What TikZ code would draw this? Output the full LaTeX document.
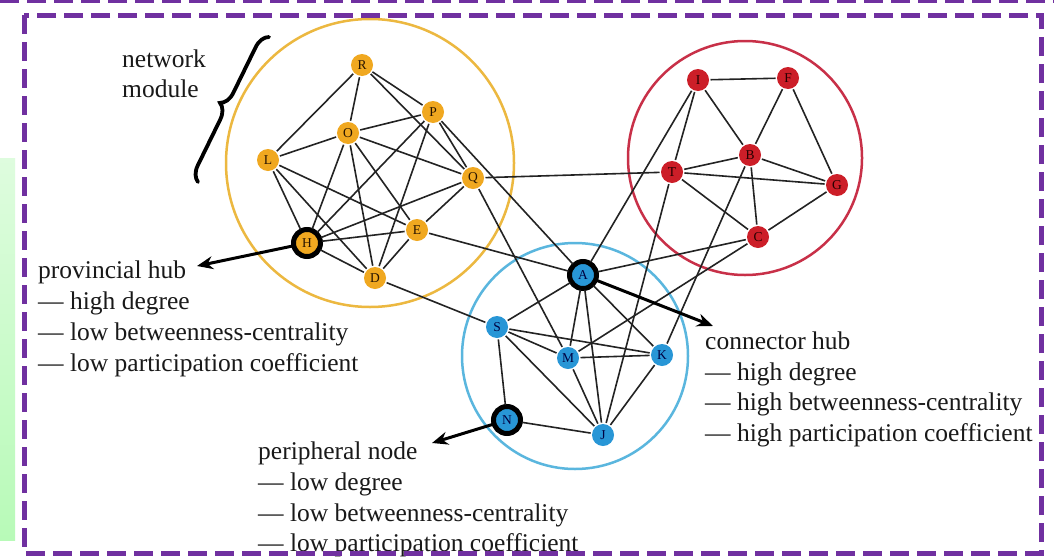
\documentclass[tikz,border=0pt]{standalone}
\usepackage{fontspec}
\setmainfont{Liberation Serif}
\usetikzlibrary{arrows.meta,decorations.pathreplacing}
\definecolor{purp}{RGB}{112,48,160}
\definecolor{orgfill}{RGB}{240,168,32}
\definecolor{orgring}{RGB}{236,184,64}
\definecolor{redfill}{RGB}{204,30,40}
\definecolor{redring}{RGB}{200,48,72}
\definecolor{bluefill}{RGB}{40,150,214}
\definecolor{bluering}{RGB}{90,182,222}
\definecolor{edgecol}{RGB}{35,35,35}
\definecolor{txt}{RGB}{25,25,25}
\definecolor{greentop}{RGB}{222,252,222}
\definecolor{greenbot}{RGB}{184,250,184}
\begin{document}
\begin{tikzpicture}[x=1pt,y=-1pt,
  vtx/.style={circle,inner sep=0pt,minimum size=22pt,outer sep=1.5pt,
    font=\fontsize{13.5}{13.5}\selectfont},
  onode/.style={vtx,fill=orgfill,text=black!85!orange},
  rnode/.style={vtx,fill=redfill,text=black!85!red},
  bnode/.style={vtx,fill=bluefill,text=black!75!blue},
  hub/.style={draw=black,line width=5pt,minimum size=27pt},
  edge/.style={draw=edgecol,line width=1.6pt},
  pointer/.style={draw=black,line width=3pt,-{Stealth[length=16pt,width=13pt]}},
  module/.style={line width=2.5pt},
  lbl/.style={font=\fontsize{25.5}{31}\selectfont,text=txt,inner sep=0pt,anchor=base west},
  frame/.style={draw=purp,line width=5pt,dash pattern=on 19pt off 8pt},
]
\useasboundingbox (0,0) rectangle (1054,557);
\fill[white] (0,0) rectangle (1054,557);
\shade[top color=greentop,bottom color=greenbot] (0,158) rectangle (15,540);

% modules
\draw[module,orgring] (370,163) circle (144);
\draw[module,redring] (745,158) circle (117);
\draw[module,bluering] (575,356) circle (113);

% nodes
\node[onode] (R) at (362,65) {R};
\node[onode] (P) at (433,112) {P};
\node[onode] (O) at (348,133) {O};
\node[onode] (L) at (268,160) {L};
\node[onode] (Q) at (473,178) {Q};
\node[onode] (E) at (417,230) {E};
\node[onode,hub] (H) at (307,243) {H};
\node[onode] (D) at (375,278) {D};
\node[rnode] (I) at (698,80) {I};
\node[rnode] (F) at (788,78) {F};
\node[rnode] (B) at (750,155) {B};
\node[rnode] (T) at (672,172) {T};
\node[rnode] (G) at (837,185) {G};
\node[rnode] (C) at (758,237) {C};
\node[bnode,hub] (A) at (583,275) {A};
\node[bnode] (S) at (497,327) {S};
\node[bnode] (M) at (568,358) {M};
\node[bnode] (K) at (662,355) {K};
\node[bnode,hub] (N) at (507,420) {N};
\node[bnode] (J) at (603,435) {J};

% edges
\foreach \u/\v in {R/L,R/O,R/P,R/Q,O/P,O/L,O/Q,O/H,O/D,O/E,P/H,P/D,P/Q,P/A,
  Q/H,Q/E,Q/M,Q/T,L/H,L/D,L/E,H/E,H/D,D/E,D/S,E/A,
  I/F,I/B,I/T,I/A,T/B,T/G,T/C,T/J,B/F,B/G,B/C,B/K,F/G,G/C,C/A,C/M,
  A/S,A/M,A/J,A/K,S/M,S/K,S/J,S/N,M/K,M/J,K/J,N/J}
  \draw[edge] (\u) -- (\v);

% pointers
\coordinate (hubtip) at (197,266);
\coordinate (contip) at (713,326);
\coordinate (pertip) at (432,443);
\draw[pointer] (H) -- (hubtip);
\draw[pointer] (A) -- (contip);
\draw[pointer] (N) -- (pertip);

% brace and labels
\coordinate (braceb) at (198,182);
\coordinate (bracet) at (269,37);
\draw[decorate,decoration={brace,amplitude=15pt},line width=3.8pt,line cap=round] (braceb) -- (bracet);
\node[lbl] (nm1) at (122,67) {network};
\node[lbl] (nm2) at (122,97) {module};

\node[lbl] (ph1) at (38,278) {provincial hub};
\node[lbl] (ph2) at (38,309) {\textemdash{} high degree};
\node[lbl] (ph3) at (38,340) {\textemdash{} low betweenness-centrality};
\node[lbl] (ph4) at (38,371) {\textemdash{} low participation coefficient};

\node[lbl] (ch1) at (705,349) {connector hub};
\node[lbl] (ch2) at (705,380) {\textemdash{} high degree};
\node[lbl] (ch3) at (705,410) {\textemdash{} high betweenness-centrality};
\node[lbl] (ch4) at (705,441) {\textemdash{} high participation coefficient};

\node[lbl] (pn1) at (258,459) {peripheral node};
\node[lbl] (pn2) at (258,490) {\textemdash{} low degree};
\node[lbl] (pn3) at (258,521) {\textemdash{} low betweenness-centrality};
\node[lbl] (pn4) at (258,551) {\textemdash{} low participation coefficient};

% frames
\draw[frame] (0,0.5) -- (1054,0.5);
\draw[frame] (24,15) rectangle (1041,553);
\end{tikzpicture}
\end{document}
